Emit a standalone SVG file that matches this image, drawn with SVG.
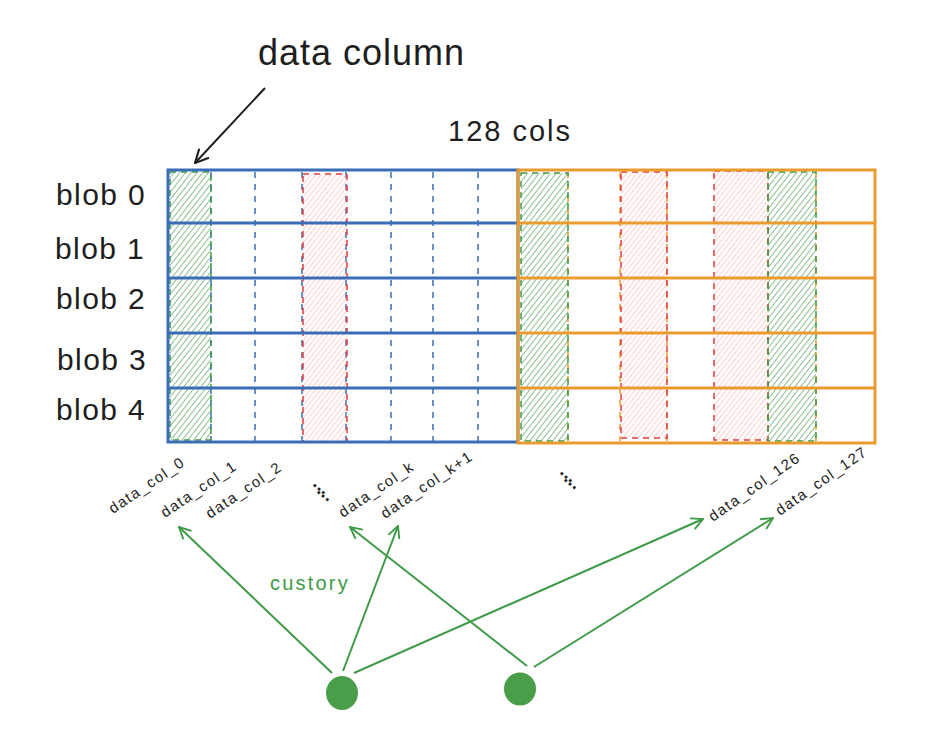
<svg xmlns="http://www.w3.org/2000/svg" width="930" height="750" viewBox="0 0 930 750">
<style>
text{font-family:"Liberation Sans","DejaVu Sans",sans-serif;fill:#1e1e1e}
.blob{font-size:30px;letter-spacing:1.4px}
.col{font-size:15px;letter-spacing:1.5px}
.dots{font-size:18px;font-weight:bold;letter-spacing:0.5px}
.blue{stroke:#3a6db5;stroke-width:3;fill:none}
.bdash{stroke:#3a6db5;stroke-width:1.5;stroke-dasharray:6 6;fill:none}
.orange{stroke:#eb9b2e;stroke-width:3;fill:none}
.odash{stroke:#eb9b2e;stroke-width:1.5;stroke-dasharray:6 6;fill:none}
.gcol{fill:url(#hg);stroke:#3e9a47;stroke-width:1.5;stroke-dasharray:6 5}
.rcol{fill:url(#hr);stroke:#e03e3e;stroke-width:1.5;stroke-dasharray:6 5}
.conn{stroke:#3e9a47;stroke-width:2;fill:none;marker-end:url(#ga)}
</style>
<defs>
<pattern id="hg" patternUnits="userSpaceOnUse" width="4.5" height="6" patternTransform="rotate(38)">
<line x1="0" y1="0" x2="0" y2="6" stroke="#3e9a47" stroke-width="1.2"/>
</pattern>
<pattern id="hr" patternUnits="userSpaceOnUse" width="4" height="6" patternTransform="rotate(38)">
<line x1="0" y1="0" x2="0" y2="6" stroke="#ff9c9c" stroke-width="1"/>
</pattern>
<marker id="ga" viewBox="0 0 12 12" refX="11" refY="6" markerWidth="14" markerHeight="14" markerUnits="userSpaceOnUse" orient="auto">
<path d="M1,1 L11,6 L1,11" fill="none" stroke="#3e9a47" stroke-width="1.6"/>
</marker>
<marker id="ka" viewBox="0 0 12 12" refX="11" refY="6" markerWidth="16" markerHeight="16" markerUnits="userSpaceOnUse" orient="auto">
<path d="M1,1 L11,6 L1,11" fill="none" stroke="#1e1e1e" stroke-width="1.6"/>
</marker>
</defs>

<g id="title">
<text x="258" y="65" style="font-size:36px;letter-spacing:1px">data column</text>
<text x="448" y="141" style="font-size:29px;letter-spacing:2px">128 cols</text>
</g>

<g id="blob-labels">
<text class="blob" x="56" y="205">blob 0</text>
<text class="blob" x="55" y="259">blob 1</text>
<text class="blob" x="56" y="309">blob 2</text>
<text class="blob" x="57" y="370">blob 3</text>
<text class="blob" x="56" y="420">blob 4</text>
</g>

<g id="blue-grid">
<line class="bdash" x1="211" y1="172" x2="211" y2="441"/>
<line class="bdash" x1="255" y1="172" x2="255" y2="441"/>
<line class="bdash" x1="302" y1="172" x2="302" y2="441"/>
<line class="bdash" x1="346" y1="172" x2="346" y2="441"/>
<line class="bdash" x1="391" y1="172" x2="391" y2="441"/>
<line class="bdash" x1="433" y1="172" x2="433" y2="441"/>
<line class="bdash" x1="478" y1="172" x2="478" y2="441"/>
<rect class="gcol" x="170" y="172" width="41" height="268"/>
<rect class="rcol" x="303" y="174" width="44" height="268"/>
<rect class="blue" x="168" y="170" width="350" height="272"/>
<line class="blue" x1="168" y1="223" x2="518" y2="223"/>
<line class="blue" x1="168" y1="278" x2="518" y2="278"/>
<line class="blue" x1="168" y1="333" x2="518" y2="333"/>
<line class="blue" x1="168" y1="388" x2="518" y2="388"/>
</g>

<g id="orange-grid">
<line class="odash" x1="568" y1="172" x2="568" y2="441"/>
<line class="odash" x1="620" y1="172" x2="620" y2="441"/>
<line class="odash" x1="667" y1="172" x2="667" y2="441"/>
<line class="odash" x1="816" y1="172" x2="816" y2="441"/>
<rect class="gcol" x="521" y="173" width="47" height="268"/>
<rect class="rcol" x="621" y="172" width="46" height="266"/>
<rect class="rcol" x="714" y="171" width="54" height="269"/>
<rect class="gcol" x="768" y="172" width="48" height="269"/>
<rect class="orange" x="518" y="170" width="357" height="273"/>
<line class="orange" x1="518" y1="223" x2="875" y2="223"/>
<line class="orange" x1="518" y1="278" x2="875" y2="278"/>
<line class="orange" x1="518" y1="333" x2="875" y2="333"/>
<line class="orange" x1="518" y1="388" x2="875" y2="388"/>
</g>

<g id="col-labels">
<text class="col" transform="translate(113,514) rotate(-34)">data_col_0</text>
<text class="col" transform="translate(165,518) rotate(-34)">data_col_1</text>
<text class="col" transform="translate(210,519) rotate(-34)">data_col_2</text>
<text class="dots" transform="translate(312,485) rotate(40)">...</text>
<text class="dots" transform="translate(316,492) rotate(40)">...</text>
<text class="col" transform="translate(343,518) rotate(-34)">data_col_k</text>
<text class="col" transform="translate(385,519) rotate(-34)">data_col_k+1</text>
<text class="dots" transform="translate(559,473) rotate(40)">...</text>
<text class="dots" transform="translate(563,480) rotate(40)">...</text>
<text class="col" transform="translate(713,522) rotate(-35)">data_col_126</text>
<text class="col" transform="translate(780,516) rotate(-35)">data_col_127</text>
</g>

<g id="custory-label">
<text x="270" y="590" style="font-size:20px;letter-spacing:2.2px;fill:#3e9a47">custory</text>
</g>

<g id="dot-left">
<ellipse cx="342" cy="693" rx="16" ry="17" fill="#4a9e4a"/>
</g>
<g id="dot-right">
<ellipse cx="520" cy="689" rx="16" ry="16.5" fill="#4a9e4a"/>
</g>

<g id="connectors">
<line x1="265" y1="88" x2="195" y2="163" stroke="#1e1e1e" stroke-width="2" marker-end="url(#ka)"/>
<line class="conn" x1="332" y1="673" x2="179" y2="527"/>
<line class="conn" x1="343" y1="671" x2="398" y2="526"/>
<line class="conn" x1="354" y1="673" x2="703" y2="519"/>
<line class="conn" x1="527" y1="666" x2="350" y2="527"/>
<line class="conn" x1="534" y1="667" x2="773" y2="518"/>
</g>
</svg>
